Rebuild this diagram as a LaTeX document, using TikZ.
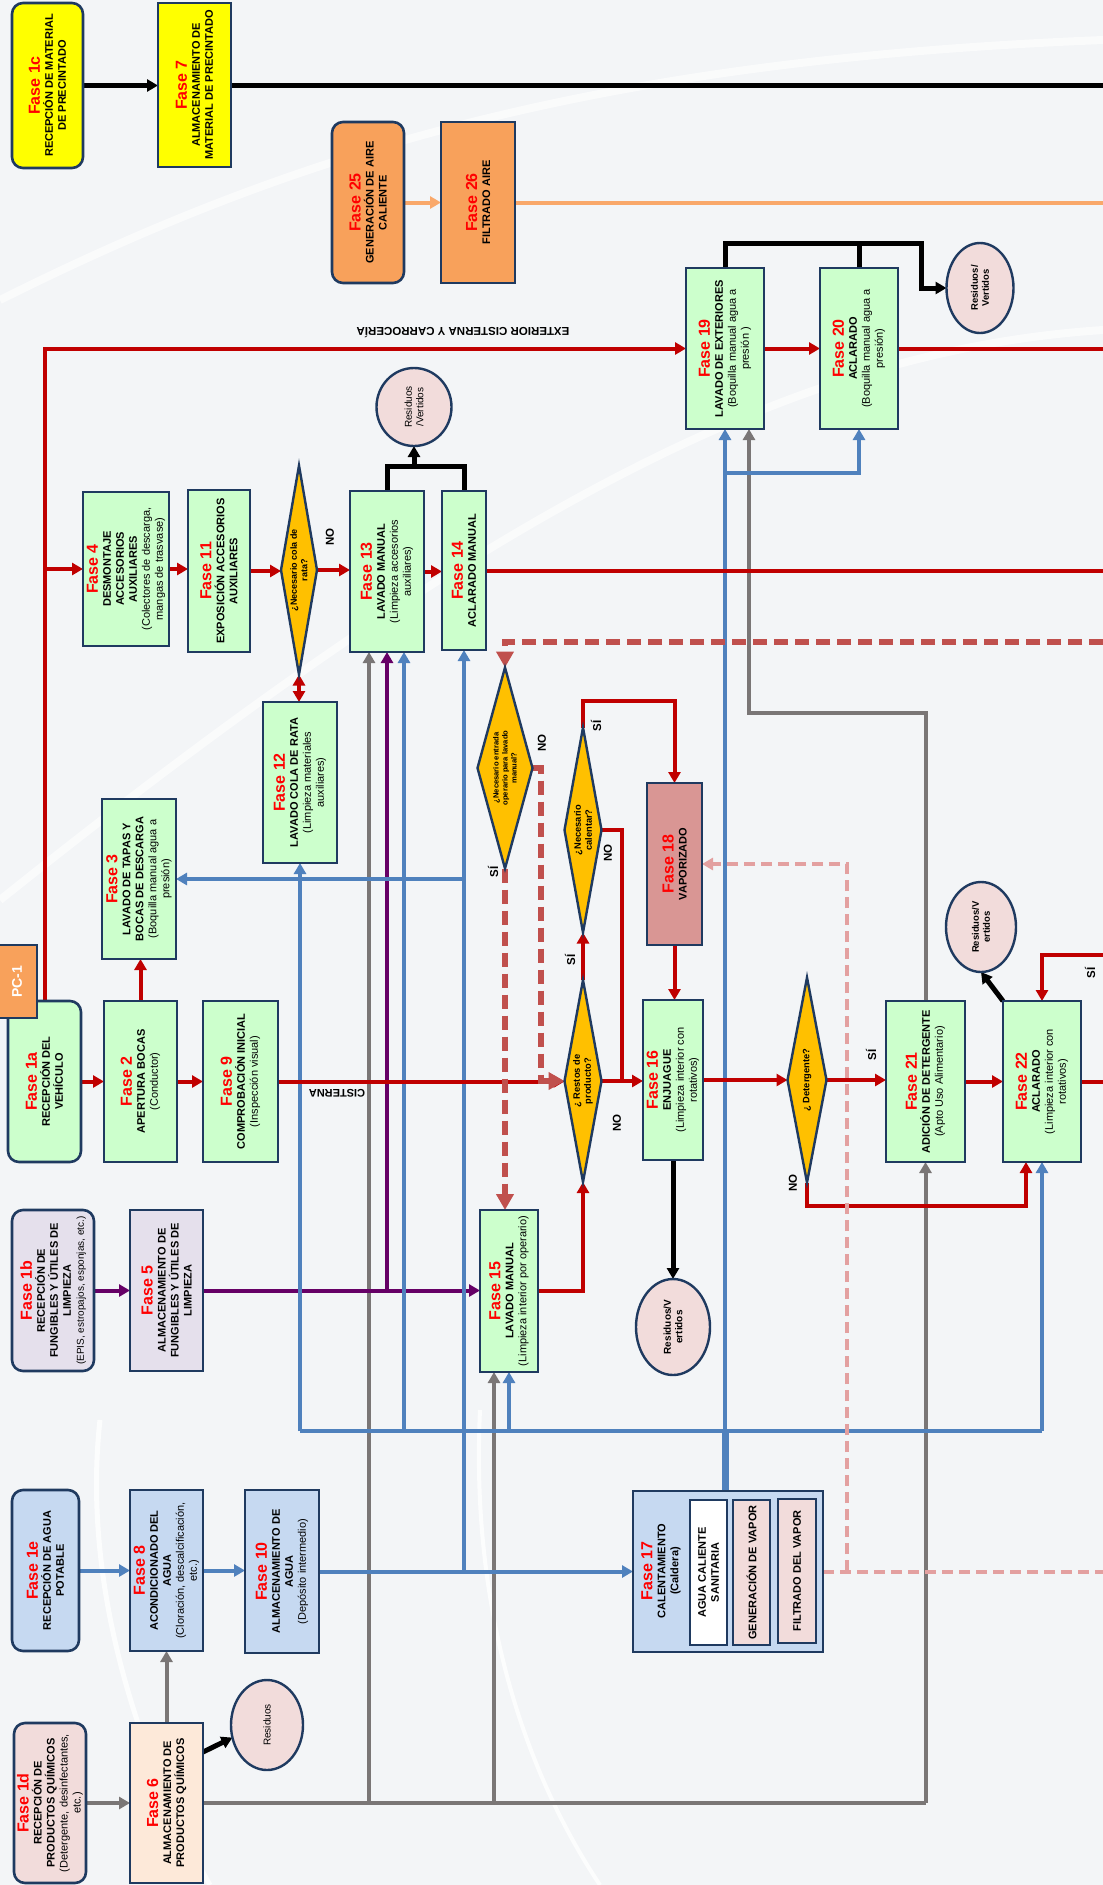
\documentclass[tikz,border=0pt]{standalone}
\usepackage{fontspec}
\setmainfont{Liberation Sans}
\usetikzlibrary{arrows.meta,shapes.geometric,calc}
\pgfdeclarelayer{bg}
\pgfdeclarelayer{lines}
\pgfsetlayers{bg,lines,main}
\definecolor{cnavy}{HTML}{1F3A60}
\definecolor{gfill}{HTML}{CCFFCC}
\definecolor{yfill}{HTML}{FFFF00}
\definecolor{ofill}{HTML}{F8A15B}
\definecolor{bfill}{HTML}{C6D9F1}
\definecolor{lfill}{HTML}{E5E0EC}
\definecolor{pfill}{HTML}{F2DCDB}
\definecolor{peach}{HTML}{FDE9D9}
\definecolor{vfill}{HTML}{D99694}
\definecolor{dfill}{HTML}{FFC000}
\definecolor{fred}{HTML}{FF0000}
\definecolor{cred}{HTML}{C00000}
\definecolor{cblue}{HTML}{4F81BD}
\definecolor{cgray}{HTML}{7A7676}
\definecolor{cpurp}{HTML}{660066}
\definecolor{cdash}{HTML}{C0504D}
\definecolor{cpink}{HTML}{E3A0A0}
\definecolor{corng}{HTML}{F9A86A}
\definecolor{bgc}{HTML}{F3F5F7}
\newcommand\fase[1]{\textcolor{fred}{\fontsize{16}{17}\selectfont\bfseries Fase #1}}
\newcommand\mkbox[7]{%
  \node[#6, minimum width={(#4)-(#2)}, minimum height={(#5)-(#3)}] (#1) at ({((#2)+(#4))/2},{((#3)+(#5))/2}) {};
  \node[txt] (#1t) at (#1) {#7};}
\begin{document}
\begin{tikzpicture}[x=1pt,y=-1pt, >={Triangle[length=11pt,width=12pt]},
 box/.style={draw=cnavy, line width=2.6pt, inner sep=0pt, outer sep=0pt},
 gbx/.style={box, fill=gfill},
 ybx/.style={box, fill=yfill},
 obx/.style={box, fill=ofill},
 bbx/.style={box, fill=bfill},
 lbx/.style={box, fill=lfill},
 pbx/.style={box, fill=pfill},
 kbx/.style={box, fill=peach},
 vbx/.style={box, fill=vfill},
 wbx/.style={box, fill=white},
 rnd/.style={rounded corners=11pt},
 dia/.style={diamond, draw=cnavy, line width=2.4pt, fill=dfill, inner sep=0pt, outer sep=0pt},
 ell/.style={ellipse, draw=cnavy, line width=2.4pt, fill=pfill, inner sep=0pt, outer sep=0pt},
 txt/.style={rotate=90, align=center, inner sep=0pt, font=\fontsize{11}{13}\selectfont},
 dtx/.style={rotate=90, align=center, inner sep=0pt, font=\bfseries\fontsize{9.3}{11}\selectfont},
 lab/.style={rotate=90, inner sep=0pt, font=\bfseries\fontsize{11.5}{13}\selectfont},
 flab/.style={rotate=180, inner sep=0pt, font=\bfseries\fontsize{11.5}{13}\selectfont},
 rd/.style={draw=cred, line width=4pt},
 bl/.style={draw=cblue, line width=4pt},
 gy/.style={draw=cgray, line width=4pt},
 pu/.style={draw=cpurp, line width=4pt},
 bk/.style={draw=black, line width=5pt},
 og/.style={draw=corng, line width=4pt},
 ds/.style={draw=cdash, line width=6pt, dash pattern=on 14pt off 7pt},
 dsA/.style={-{Triangle[length=16pt,width=17pt]}},
 pk/.style={draw=cpink, line width=4pt, dash pattern=on 11pt off 6pt},
]
\useasboundingbox (0,0) rectangle (1103,1885);
\begin{pgfonlayer}{bg}
\fill[bgc] (0,0) rectangle (1103,1885);
\draw[white, line width=5pt, opacity=0.8] (100,1420) .. controls (80,1600) and (150,1780) .. (210,1885);
\draw[white, line width=4pt, opacity=0.8] (480,1410) .. controls (470,1620) and (530,1780) .. (600,1885);
\draw[white, line width=8pt, opacity=0.6] (0,300) .. controls (300,150) and (600,60) .. (1103,40);
\draw[white, line width=8pt, opacity=0.6] (1103,330) .. controls (800,350) and (500,500) .. (0,900);
\end{pgfonlayer}

% ---------- nodes ----------
\mkbox{f1c}{12}{3}{83}{168}{ybx,rnd}{\fase{1c}\\\textbf{RECEPCIÓN DE MATERIAL}\\\textbf{DE PRECINTADO}}
\mkbox{f7}{158}{3}{231}{167}{ybx}{\fase{7}\\\textbf{ALMACENAMIENTO DE}\\\textbf{MATERIAL DE PRECINTADO}}
\mkbox{f25}{332}{122}{404}{283}{obx,rnd}{\fase{25}\\\textbf{GENERACIÓN DE AIRE}\\\textbf{CALIENTE}}
\mkbox{f26}{441}{122}{515}{283}{obx}{\fase{26}\\\textbf{FILTRADO AIRE}}
\mkbox{f19}{686}{268}{764}{429}{gbx}{\fase{19}\\\textbf{LAVADO DE EXTERIORES}\\(Boquilla manual agua a\\presión )}
\mkbox{f20}{820}{268}{898}{429}{gbx}{\fase{20}\\\textbf{ACLARADO}\\(Boquilla manual agua a\\presión)}
\mkbox{f4}{83}{492}{169}{646}{gbx}{\fase{4}\\\textbf{DESMONTAJE}\\\textbf{ACCESORIOS}\\\textbf{AUXILIARES}\\(Colectores de descarga,\\mangas de trasvase)}
\mkbox{f11}{188}{490}{250}{652}{gbx}{\fase{11}\\\textbf{EXPOSICIÓN ACCESORIOS}\\\textbf{AUXILIARES}}
\mkbox{f13}{350}{491}{424}{652}{gbx}{\fase{13}\\\textbf{LAVADO MANUAL}\\(Limpieza accesorios\\auxiliares)}
\mkbox{f14}{442}{491}{486}{650}{gbx}{\fase{14}\\\textbf{ACLARADO MANUAL}}
\mkbox{f12}{263}{702}{337}{863}{gbx}{\fase{12}\\\textbf{LAVADO COLA DE RATA}\\(Limpieza materiales\\auxiliares)}
\mkbox{f3}{102}{799}{176}{959}{gbx}{\fase{3}\\\textbf{LAVADO DE TAPAS Y}\\\textbf{BOCAS DE DESCARGA}\\(Boquilla manual agua a\\presión)}
\mkbox{f18}{647}{783}{702}{945}{vbx}{\fase{18}\\\textbf{VAPORIZADO}}
\mkbox{f1a}{8}{1001}{81}{1162}{gbx,rnd}{\fase{1a}\\\textbf{RECEPCIÓN DEL}\\\textbf{VEHÍCULO}}
\mkbox{f2}{104}{1001}{177}{1162}{gbx}{\fase{2}\\\textbf{APERTURA BOCAS}\\(Conductor)}
\mkbox{f9}{203}{1001}{278}{1162}{gbx}{\fase{9}\\\textbf{COMPROBACIÓN INICIAL}\\(Inspección visual)}
\mkbox{f16}{643}{1000}{703}{1160}{gbx}{\fase{16}\\\textbf{ENJUAGUE}\\(Limpieza interior con\\rotativos)}
\mkbox{f21}{886}{1001}{965}{1162}{gbx}{\fase{21}\\\textbf{ADICIÓN DE DETERGENTE}\\(Apto Uso Alimentario)}
\mkbox{f22}{1003}{1001}{1081}{1162}{gbx}{\fase{22}\\\textbf{ACLARADO}\\(Limpieza interior con\\rotativos)}
\mkbox{f1b}{12}{1210}{94}{1371}{lbx,rnd}{\fase{1b}\\\textbf{RECEPCIÓN DE}\\\textbf{FUNGIBLES Y ÚTILES DE}\\\textbf{LIMPIEZA}\\{\fontsize{10}{11}\selectfont(EPIS, estropajos, esponjas, etc.)}}
\mkbox{f5}{130}{1210}{203}{1371}{lbx}{\fase{5}\\\textbf{ALMACENAMIENTO DE}\\\textbf{FUNGIBLES Y ÚTILES DE}\\\textbf{LIMPIEZA}}
\mkbox{f15}{480}{1210}{538}{1372}{gbx}{\fase{15}\\\textbf{LAVADO MANUAL}\\(Limpieza interior por operario)}
\mkbox{f1e}{12}{1490}{79}{1651}{bbx,rnd}{\fase{1e}\\\textbf{RECEPCIÓN DE AGUA}\\\textbf{POTABLE}}
\mkbox{f8}{130}{1490}{203}{1651}{bbx}{\fase{8}\\\textbf{ACONDICIONADO DEL}\\\textbf{AGUA}\\(Cloración, descalcificación,\\etc.)}
\mkbox{f10}{245}{1490}{319}{1653}{bbx}{\fase{10}\\\textbf{ALMACENAMIENTO DE}\\\textbf{AGUA}\\(Depósito intermedio)}
\mkbox{f1d}{14}{1723}{86}{1883}{pbx,rnd}{\fase{1d}\\\textbf{RECEPCIÓN DE}\\\textbf{PRODUCTOS QUÍMICOS}\\(Detergente, desinfectantes,\\etc.)}
\mkbox{f6}{130}{1723}{203}{1883}{kbx}{\fase{6}\\\textbf{ALMACENAMIENTO DE}\\\textbf{PRODUCTOS QUÍMICOS}}
\node[bbx, minimum width=190, minimum height=161] (f17) at (728,1571.5) {};
\node[txt] (f17t) at (661,1571) {\fase{17}\\\textbf{CALENTAMIENTO}\\\textbf{(Caldera)}};
\mkbox{acs}{690}{1500}{727}{1645}{wbx}{\textbf{AGUA CALIENTE}\\\textbf{SANITARIA}}
\mkbox{gvp}{733}{1500}{770}{1645}{pbx}{\textbf{GENERACIÓN DE  VAPOR}}
\mkbox{fvp}{778}{1499}{816}{1643}{pbx}{\textbf{FILTRADO DEL VAPOR}}
\mkbox{pc1}{-3}{945}{37}{1018}{obx}{\textcolor{white}{\fontsize{14}{16}\selectfont\bfseries PC-1}}

% ellipses
\node[ell, minimum width=75, minimum height=78] (res1) at (414,407) {};
\node[txt, font=\fontsize{10}{11.5}\selectfont] (res1t) at (res1) {Residuos\\/Vertidos};
\node[ell, minimum width=67, minimum height=90] (res2) at (980,288) {};
\node[txt, font=\bfseries\fontsize{9.5}{11}\selectfont] (res2t) at (res2) {Residuos/\\Vertidos};
\node[ell, minimum width=74, minimum height=96] (res3) at (673,1327) {};
\node[txt, font=\bfseries\fontsize{10}{11.5}\selectfont] (res3t) at (res3) {Residuos/V\\ertidos};
\node[ell, minimum width=70, minimum height=90] (res4) at (981,927) {};
\node[txt, font=\bfseries\fontsize{9.5}{11}\selectfont] (res4t) at (res4) {Residuos/V\\ertidos};
\node[ell, minimum width=72, minimum height=90] (res5) at (267,1725) {};
\node[txt, font=\fontsize{10}{11.5}\selectfont] (res5t) at (res5) {Residuos};

% diamonds
\node[dia, minimum width=36, minimum height=209] (d1) at (299,570) {};
\node[dtx, font=\bfseries\fontsize{9}{10.5}\selectfont] (d1t) at (d1) {¿Necesario cola de\\rata?};
\node[dia, minimum width=55, minimum height=201] (d2) at (505,768) {};
\node[dtx, font=\bfseries\fontsize{7.6}{9}\selectfont] (d2t) at (d2) {¿Necesario  entrada\\operario para lavado\\manual?};
\node[dia, minimum width=37, minimum height=205] (d3) at (583,830) {};
\node[dtx] (d3t) at (d3) {¿Necesario\\calentar?};
\node[dia, minimum width=37, minimum height=202] (d4) at (583,1081) {};
\node[dtx] (d4t) at (d4) {¿ Restos de\\producto?};
\node[dia, minimum width=39, minimum height=205] (d5) at (807,1080) {};
\node[dtx] (d5t) at (d5) {¿ Detergente?};

% labels
\node[lab] (l1) at (330,537) {NO};
\node[lab] (l2) at (542,743) {NO};
\node[lab] (l3) at (493,872) {SÍ};
\node[lab] (l4) at (596,726) {SÍ};
\node[lab] (l5) at (608,853) {NO};
\node[lab] (l6) at (570,960) {SÍ};
\node[lab] (l7) at (617,1123) {NO};
\node[lab] (l8) at (871,1055) {SÍ};
\node[lab] (l9) at (793,1183) {NO};
\node[lab] (l10) at (1090,973) {SÍ};
\node[flab] (lext) at (463,333) {EXTERIOR CISTERNA Y CARROCERÍA};
\node[flab, font=\bfseries\fontsize{11}{12}\selectfont] (lcis) at (337,1093) {CISTERNA};

% free ends / junctions
\coordinate (eK) at (1103,85);
\coordinate (eO) at (1103,202);
\coordinate (eR1) at (1103,348);
\coordinate (eR2) at (1103,570);
\coordinate (eR3) at (1103,1081);
\coordinate (eR4) at (1103,955);
\coordinate (eD) at (1103,642);
\coordinate (eP) at (1103,1571);
\coordinate (jK1) at (414,466);
\coordinate (jK2) at (921,243);
\coordinate (jR1) at (622,1081);
\coordinate (jR2) at (1026,1206);
\coordinate (jD) at (541,1081);
\coordinate (jP) at (847,1571);
\coordinate (hB) at (0,1431);
\coordinate (hB2) at (0,473);
\coordinate (hG) at (0,1803);
\coordinate (hG2) at (0,713);
\coordinate (xB13) at ($(f13.south)+(17,0)$);
\coordinate (xG13) at ($(f13.south)+(-18,0)$);
\coordinate (xG15) at ($(f15.south)+(-15,0)$);
\coordinate (xG19) at ($(f19.south)+(24,0)$);
\coordinate (k6) at ($(f6.north east)+(0,29)$);

\begin{pgfonlayer}{lines}
% gray
\draw[gy,->] (f1d.east) -- (f1d.east -| f6.west);
\draw[gy,->] (f6.north) -- (f6.north |- f8.south);
\draw[gy] (f6.east) -- (f21.south |- hG);
\draw[gy,->] (xG13 |- hG) -- (xG13);
\draw[gy,->] (xG15 |- hG) -- (xG15);
\draw[gy,->] (f21.south |- hG) -- (f21.south);
\draw[gy,->] (f21.north) -- (f21.north |- hG2) -| (xG19);
% purple
\draw[pu,->] (f1b.east) -- (f1b.east -| f5.west);
\draw[pu,->] (f5.east) -- (f5.east -| f15.west);
\draw[pu,->] (f13.south |- f5.east) -- (f13.south);
% blue
\draw[bl,->] (f1e.east) -- (f1e.east -| f8.west);
\draw[bl,->] (f8.east) -- (f8.east -| f10.west);
\draw[bl,->] (f10.east) -- (f10.east -| f17.west);
\draw[bl,->] (f14.south |- f10.east) -- (f14.south);
\draw[bl,->] (f14.south |- f3.east) -- (f3.east);
\draw[bl, line width=7pt] (f19.south |- f17.north) -- (f19.south |- hB);
\draw[bl] (f12.south |- hB) -- (f22.south |- hB);
\draw[bl,->] (f12.south |- hB) -- (f12.south);
\draw[bl,->] (xB13 |- hB) -- (xB13);
\draw[bl,->] (f15.south |- hB) -- (f15.south);
\draw[bl,->] (f19.south |- hB) -- (f19.south);
\draw[bl,->] (f19.south |- hB2) -| (f20.south);
\draw[bl,->] (f22.south |- hB) -- (f22.south);
% orange
\draw[og,->] (f25.east) -- (f25.east -| f26.west);
\draw[og] (f26.east) -- (f26.east -| eO);
% black
\draw[bk,->] (f1c.east) -- (f1c.east -| f7.west);
\draw[bk] (f7.east) -- (f7.east -| eK);
\draw[bk] (f13.north) |- (jK1) -| (f14.north);
\draw[bk,->] (jK1) -- (res1.south);
\draw[bk,->] (f19.north) |- (jK2) |- (res2.west);
\draw[bk] (f20.north) -- (f20.north |- jK2);
\draw[bk,->] (f16.south) -- (res3.north);
\draw[bk,->] (f22.north west) -- (res4.south);
\draw[bk,->] (k6) -- (res5.200);
% red
\draw[rd,->] (f1a.north) |- (f19.west);
\draw[rd,->] (f1a.north |- f4.west) -- (f4.west);
\draw[rd,->] (f4.east) -- (f4.east -| f11.west);
\draw[rd,->] (f11.east) -- (f11.east -| d1.west);
\draw[rd,->] (d1.east) -- (d1.east -| f13.west);
\draw[rd,->] (f13.east) -- (f13.east -| f14.west);
\draw[rd] (f14.east) -- (f14.east -| eR2);
\draw[rd,<->] (d1.south) -- (d1.south |- f12.north);
\draw[rd,->] (f1a.east) -- (f1a.east -| f2.west);
\draw[rd,->] (f2.north) -- (f2.north |- f3.south);
\draw[rd,->] (f2.east) -- (f2.east -| f9.west);
\draw[rd,->] (f9.east) -- (f9.east -| d4.west);
\draw[rd,->] (d4.east) -- (d4.east -| f16.west);
\draw[rd,->] (d4.north) -- (d4.north |- d3.south);
\draw[rd,->] (d3.north) -- ++(0,-27) -| (f18.north);
\draw[rd] (d3.east) -| (jR1);
\draw[rd,->] (f18.south) -- (f18.south |- f16.north);
\draw[rd,->] (f15.east) -| (d4.south);
\draw[rd,->] (f16.east) -- (f16.east -| d5.west);
\draw[rd,->] (d5.east) -- (d5.east -| f21.west);
\draw[rd,->] (f21.east) -- (f21.east -| f22.west);
\draw[rd] (f22.east) -- (f22.east -| eR3);
\draw[rd,->] (d5.south) |- (jR2) -- (jR2 |- f22.south);
\draw[rd,->] (eR4) -| (f22.north);
\draw[rd,->] (f19.east) -- (f19.east -| f20.west);
\draw[rd] (f20.east) -- (f20.east -| eR1);
% dashed
\draw[ds,dsA] (eD) -| (d2.north);
\draw[ds,dsA] (d2.east) -| (jD) -- (jD -| d4.west);
\draw[ds,dsA] (d2.south) -- (d2.south |- f15.north);
\draw[pk] (f17.east) -- (f17.east -| eP);
\draw[pk,->] (jP) |- (f18.east);
\end{pgfonlayer}
\end{tikzpicture}
\end{document}
